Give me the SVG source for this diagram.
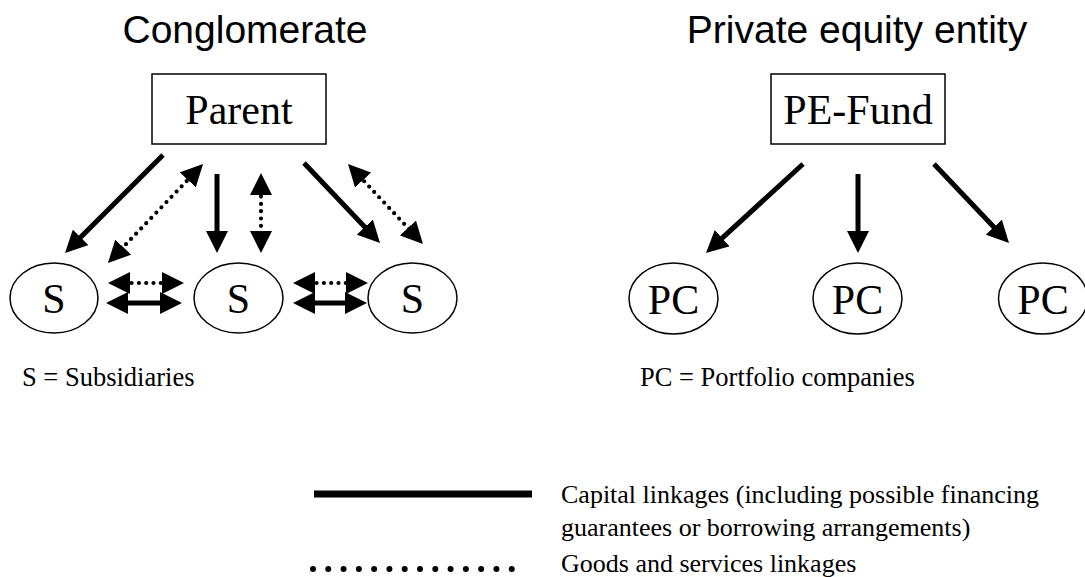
<svg xmlns="http://www.w3.org/2000/svg" width="1085" height="577" viewBox="0 0 1085 577">
  <style>
    .title { font-family: "Liberation Sans", Arial, sans-serif; font-size: 39px; fill: #000; text-anchor: middle; }
    .node { fill: #fff; stroke: #000; stroke-width: 1.5; }
    .lbl { font-family: "Liberation Serif", "Times New Roman", serif; font-size: 42px; fill: #000; text-anchor: middle; }
    .txt { font-family: "Liberation Serif", "Times New Roman", serif; font-size: 26.5px; fill: #000; }
    .leg { font-family: "Liberation Serif", "Times New Roman", serif; font-size: 26px; fill: #000; }
    .solid { fill: none; stroke: #000; stroke-width: 5; marker-end: url(#ah); }
    .solid2 { fill: none; stroke: #000; stroke-width: 5; marker-end: url(#ah); marker-start: url(#ah); }
    .dot2 { fill: none; stroke: #000; stroke-width: 4.2; stroke-linecap: round; stroke-dasharray: 0 7.3; marker-end: url(#ah); marker-start: url(#ah); }
  </style>
  <defs>
    <marker id="ah" markerUnits="userSpaceOnUse" markerWidth="22" markerHeight="22" refX="13" refY="11" orient="auto-start-reverse" viewBox="0 0 22 22">
      <path d="M0,0 L22,11 L0,22 z" fill="#000"/>
    </marker>
  </defs>

  <rect width="1085" height="577" fill="#fff"/>

  <text class="title" x="245" y="43">Conglomerate</text>
  <text class="title" x="857" y="43">Private equity entity</text>

  <g id="parent">
    <rect class="node" x="152" y="74" width="174" height="70"/>
    <text class="lbl" x="239" y="124">Parent</text>
  </g>
  <g id="pe-fund">
    <rect class="node" x="771" y="74" width="174" height="70"/>
    <text class="lbl" x="858" y="124">PE-Fund</text>
  </g>

  <g id="s1">
    <ellipse class="node" cx="54" cy="298" rx="44" ry="35"/>
    <text class="lbl" x="54" y="313">S</text>
  </g>
  <g id="s2">
    <ellipse class="node" cx="238.5" cy="298" rx="44.5" ry="35"/>
    <text class="lbl" x="238.5" y="313">S</text>
  </g>
  <g id="s3">
    <ellipse class="node" cx="412.5" cy="298" rx="44.5" ry="35"/>
    <text class="lbl" x="412.5" y="313">S</text>
  </g>

  <g id="pc1">
    <ellipse class="node" cx="673.5" cy="298.5" rx="44.5" ry="35.5"/>
    <text class="lbl" x="673.5" y="314">PC</text>
  </g>
  <g id="pc2">
    <ellipse class="node" cx="857.5" cy="298.5" rx="44.5" ry="35.5"/>
    <text class="lbl" x="857.5" y="314">PC</text>
  </g>
  <g id="pc3">
    <ellipse class="node" cx="1043" cy="298.5" rx="44.5" ry="35.5"/>
    <text class="lbl" x="1043" y="314">PC</text>
  </g>

  <g id="connectors">
    <path class="solid" d="M163,155 L71.4,246.6"/>
    <path class="solid" d="M217,174 L217,244"/>
    <path class="solid" d="M304,163 L373.8,236.5"/>
    <path class="solid" d="M803,164 L712.6,246.9"/>
    <path class="solid" d="M858,174 L858,244"/>
    <path class="solid" d="M934,164 L1002.8,236.5"/>

    <path class="dot2" d="M196.8,170.5 L114.2,256.5"/>
    <path class="dot2" d="M261,182 L261,244"/>
    <path class="dot2" d="M354.2,170.6 L416.8,237.4"/>

    <path class="dot2" d="M117,283 L175,283"/>
    <path class="solid2" d="M115,303 L173,303"/>
    <path class="dot2" d="M302,283 L359,283"/>
    <path class="solid2" d="M302,303 L358,303"/>
  </g>

  <text class="txt" x="22" y="386">S = Subsidiaries</text>
  <text class="txt" x="640" y="386">PC = Portfolio companies</text>

  <g id="legend">
    <line x1="314" y1="494" x2="532" y2="494" stroke="#000" stroke-width="7"/>
    <line x1="313" y1="569" x2="527" y2="569" stroke="#000" stroke-width="6" stroke-linecap="round" stroke-dasharray="0 15.286"/>
    <text class="leg" x="561" y="503">Capital linkages (including possible financing</text>
    <text class="leg" x="561" y="536">guarantees or borrowing arrangements)</text>
    <text class="leg" x="561" y="572">Goods and services linkages</text>
  </g>
</svg>
